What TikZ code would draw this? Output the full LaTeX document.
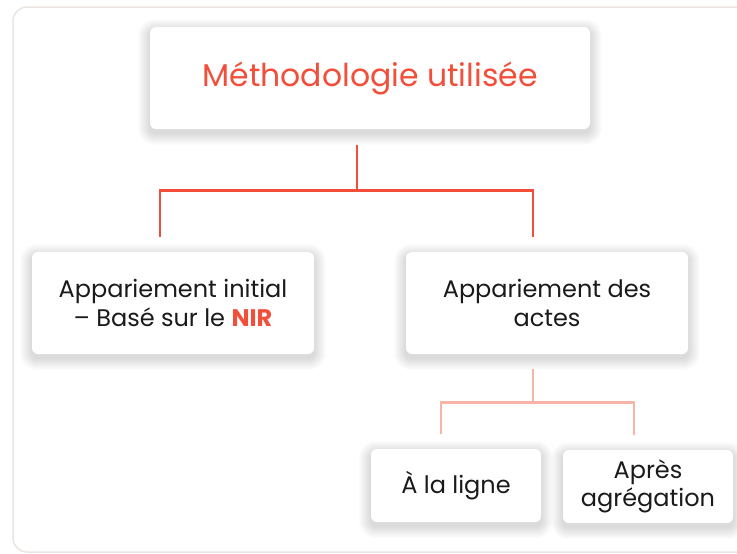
\documentclass[tikz,border=0pt]{standalone}
\usepackage{fontspec}
\setmainfont{Poppins}
\usepackage{tikz}
\usetikzlibrary{calc}

\definecolor{rouge}{HTML}{F24E3A}
\definecolor{rose}{HTML}{F9B4A8}
\definecolor{cadre}{HTML}{ECE5E1}
\definecolor{encre}{HTML}{1A1A1A}

\pgfdeclarelayer{ombre}
\pgfsetlayers{ombre,main}

% soft shadow under a named box
\newcommand{\ombre}[1]{%
  \begin{pgfonlayer}{ombre}
    \foreach \i in {1,...,12}
      \fill[black,opacity=0.013,rounded corners=6+\i]
        ($(#1.north west)+(-\i,-\i+4)$) rectangle ($(#1.south east)+(\i,\i+4)$);
  \end{pgfonlayer}}

\begin{document}
\begin{tikzpicture}[x=1pt,y=-1pt,
    box/.style={rectangle,rounded corners=6pt,fill=white,align=center,
      text=encre,font=\fontsize{24}{29}\selectfont},
    link/.style={rouge,line width=2.6pt},
    sublink/.style={rose,line width=2.6pt}]
  \clip (0,0) rectangle (737,554);
  \begin{pgfonlayer}{ombre}
    \fill[white] (0,0) rectangle (737,554);
    \draw[cadre,line width=1.5pt,rounded corners=14pt] (13,7) rectangle (780,552);
  \end{pgfonlayer}
  % boxes
  \node[box,minimum width=440pt,minimum height=102pt,text=rouge,font=\fontsize{31.5}{36}\selectfont] (title) at (370,78) {Méthodologie utilisée};
  \node[box,minimum width=282pt,minimum height=102pt] (left) at (173,303) {Appariement initial\\– Basé sur le \textbf{\color{rouge}NIR}};
  \node[box,minimum width=282pt,minimum height=102pt] (right) at (547,303) {Appariement des\\actes};
  \node[box,minimum width=170pt,minimum height=73pt] (ligne) at (456,485.5) {À la ligne};
  \node[box,minimum width=170pt,minimum height=73pt,font=\fontsize{24}{28}\selectfont] (agreg) at (648,486.5) {Après\\agrégation};
  \foreach \n in {title,left,right,ligne,agreg}
    \ombre{\n};
  % first level
  \draw[link] ($(title.south)+(-13,16)$) -- ++(0,45) coordinate (m1);
  \draw[link] ($(left.north)+(-13,-15)$) |- (m1) -| ($(right.north)+(-14,-15)$);
  % second level
  \draw[sublink] ($(right.south)+(-14,15)$) -- ++(0,33) coordinate (m2);
  \draw[sublink] ($(ligne.north)+(-15,-15)$) |- (m2) -| ($(agreg.north)+(-14,-15)$);
\end{tikzpicture}
\end{document}
